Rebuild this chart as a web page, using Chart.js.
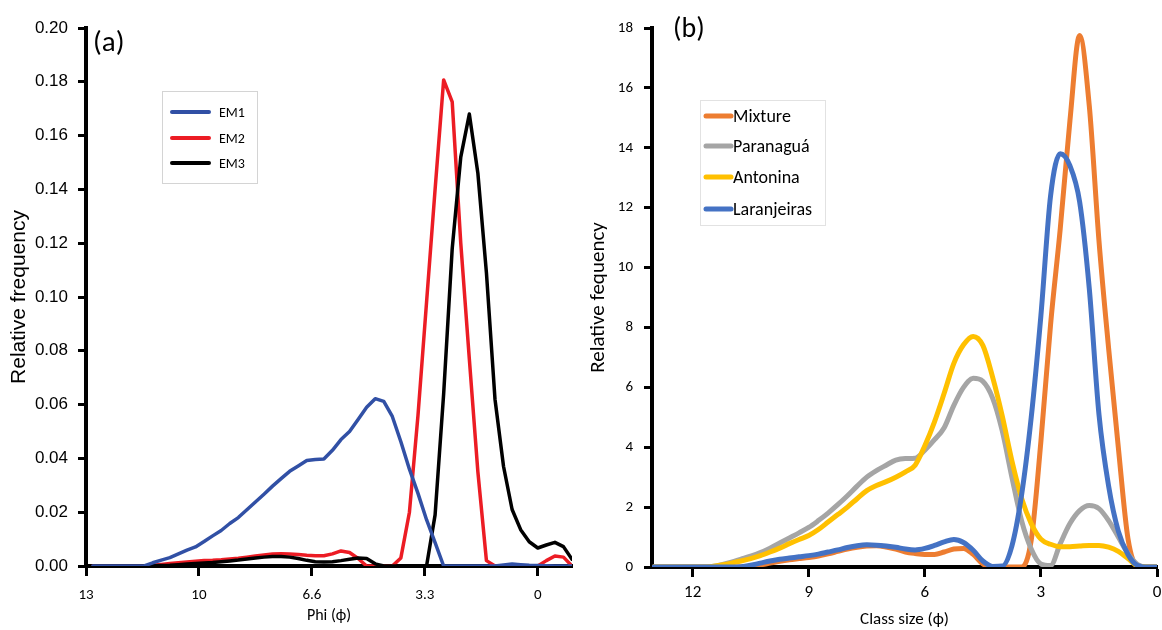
<!DOCTYPE html>
<html><head><meta charset="utf-8">
<script src="https://cdn.jsdelivr.net/npm/chart.js@4.4.1/dist/chart.umd.min.js"></script>
<style>
html,body{margin:0;padding:0;background:#fff;}
#wrap{position:relative;width:1162px;height:630px;overflow:hidden;}
canvas{position:absolute;top:0;}
#ca{left:0;} #cb{left:580px;}
</style></head><body>
<div id="wrap"><canvas id="ca" width="580" height="630"></canvas><canvas id="cb" width="582" height="630"></canvas></div>
<script>
// ---------- Panel (a) data ----------
const phiA = [13,12.75,12.5,12.25,12,11.75,11.5,11.25,11,10.75,10.5,10.25,10,9.75,9.5,9.25,9,8.75,8.5,8.25,8,7.75,7.5,7.25,7,6.75,6.5,6.25,6,5.75,5.5,5.25,5,4.75,4.5,4.25,4,3.75,3.5,3.25,3,2.75,2.5,2.25,2,1.75,1.5,1.25,1,0.75,0.5,0.25,0,-0.25,-0.5,-0.75,-1];
const em1 = [0,0,0,0,0,0,0,0.0012,0.0022,0.0031,0.0045,0.0059,0.0071,0.0091,0.0112,0.0132,0.0158,0.0180,0.0209,0.0238,0.0267,0.0297,0.0325,0.0352,0.0372,0.0392,0.0396,0.0398,0.0430,0.0470,0.0500,0.0545,0.0590,0.0622,0.0612,0.0556,0.0462,0.0360,0.0270,0.0172,0.0087,0,0,0,0,0,0,0,0.0004,0.0007,0.0005,0.0003,0.0002,0.0001,0,0,0];
const em2 = [0,0,0,0,0,0,0,0.0003,0.0006,0.0009,0.0012,0.0015,0.0018,0.0020,0.0021,0.0023,0.0026,0.0029,0.0033,0.0037,0.0041,0.0045,0.0046,0.0045,0.0043,0.0040,0.0038,0.0038,0.0045,0.0056,0.0050,0.0028,0,0,0,0,0.003,0.020,0.056,0.098,0.140,0.1807,0.1725,0.120,0.077,0.035,0.002,0,0,0,0,0,0,0.002,0.0037,0.0033,0];
const em3 = [0,0,0,0,0,0,0,0.0001,0.0002,0.0003,0.0005,0.0007,0.0009,0.0011,0.0013,0.0016,0.0019,0.0022,0.0026,0.0030,0.0033,0.0035,0.0035,0.0033,0.0028,0.0021,0.0016,0.0015,0.0016,0.0020,0.0025,0.0030,0.0028,0.0008,0,0,0,0,0,0,0.019,0.064,0.118,0.152,0.168,0.146,0.109,0.062,0.037,0.021,0.0135,0.009,0.0067,0.0078,0.0088,0.0072,0.0025];
const xTickValsA = [0, 3.3, 6.6, 9.9, 13.2];
const xTickLabelsA = ['0', '3.3', '6.6', '10', '13'];
const yTickValsA = [0,0.02,0.04,0.06,0.08,0.10,0.12,0.14,0.16,0.18,0.20];
const yTickLabelsA = ['0.00','0.02','0.04','0.06','0.08','0.10','0.12','0.14','0.16','0.18','0.20'];

// ---------- Panel (b) data ----------
const phiB = [13,12.75,12.5,12.25,12,11.75,11.5,11.25,11,10.75,10.5,10.25,10,9.75,9.5,9.25,9,8.75,8.5,8.25,8,7.75,7.5,7.25,7,6.75,6.5,6.25,6,5.75,5.5,5.25,5,4.75,4.5,4.25,4,3.75,3.5,3.25,3,2.75,2.5,2.25,2,1.75,1.5,1.25,1,0.75,0.5,0.25,0];
const mixture = [0,0,0,0,0,0,0,0,0,0,0.02,0.07,0.13,0.19,0.24,0.28,0.32,0.37,0.44,0.52,0.60,0.66,0.70,0.71,0.67,0.60,0.50,0.45,0.42,0.42,0.50,0.60,0.62,0.42,0.10,0,0,0,0,0.9,4.2,8.1,11.3,14.9,17.75,15.4,10.9,7.3,4.0,0.95,0.02,0,0];
const paranagua = [0,0,0,0,0,0,0.02,0.08,0.16,0.26,0.36,0.48,0.63,0.80,0.97,1.14,1.32,1.55,1.80,2.08,2.38,2.70,3.00,3.22,3.40,3.57,3.62,3.63,3.90,4.25,4.65,5.40,6.00,6.30,6.20,5.65,4.55,3.00,1.55,0.60,0.10,0.05,0.78,1.45,1.88,2.05,1.95,1.55,1.00,0.45,0.08,0,0];
const antonina = [0,0,0,0,0,0,0.02,0.07,0.13,0.20,0.28,0.38,0.50,0.63,0.78,0.92,1.05,1.25,1.50,1.75,2.00,2.28,2.55,2.72,2.85,3.00,3.18,3.40,4.05,4.85,5.80,6.80,7.42,7.70,7.40,6.35,5.05,3.55,2.30,1.45,0.93,0.76,0.68,0.68,0.70,0.72,0.72,0.66,0.52,0.28,0.03,0,0];
const laranjeiras = [0,0,0,0,0,0,0,0,0,0.01,0.06,0.13,0.20,0.26,0.30,0.34,0.38,0.43,0.50,0.57,0.65,0.71,0.74,0.73,0.70,0.66,0.60,0.57,0.62,0.72,0.84,0.92,0.82,0.56,0.20,0.02,0.03,0.70,2.40,5.00,8.40,12.40,13.80,13.40,12.20,9.30,5.10,2.70,1.20,0.42,0.05,0,0];
const xTickValsB = [0, 3, 6, 9, 12];
const xTickLabelsB = ['0', '3', '6', '9', '12'];
const yTickValsB = [0,2,4,6,8,10,12,14,16,18];
const yTickLabelsB = ['0','2','4','6','8','10','12','14','16','18'];

// ---------- helpers ----------
const CAL = 'Carlito, Calibri, Lato, sans-serif';
const ARI = 'Arial, "Liberation Sans", sans-serif';
const pts = (xs, ys) => xs.map((x, i) => ({x: x, y: ys[i]}));

const boxLegend = {
  id: 'boxLegend',
  afterDraw(chart, args, o) {
    const ctx = chart.ctx;
    ctx.save();
    ctx.fillStyle = '#fff';
    ctx.fillRect(o.x, o.y, o.w, o.h);
    ctx.strokeStyle = o.borderColor; ctx.lineWidth = 1;
    ctx.strokeRect(o.x + 0.5, o.y + 0.5, o.w, o.h);
    ctx.font = o.font; ctx.textBaseline = 'middle'; ctx.textAlign = 'left';
    chart.data.datasets.forEach((ds, i) => {
      const y = o.rowY[i];
      ctx.strokeStyle = ds.borderColor; ctx.lineWidth = o.lineWidth; ctx.lineCap = 'round';
      ctx.beginPath(); ctx.moveTo(o.lineX0, y); ctx.lineTo(o.lineX1, y); ctx.stroke();
      ctx.fillStyle = '#000';
      ctx.fillText(ds.label, o.textX, y + 1);
    });
    ctx.restore();
  }
};
const panelLabel = {
  id: 'panelLabel',
  afterDraw(chart, args, o) {
    const ctx = chart.ctx, a = chart.chartArea;
    ctx.save();
    ctx.font = o.font; ctx.fillStyle = '#000'; ctx.textBaseline = 'middle'; ctx.textAlign = 'left';
    ctx.fillText(o.text, a.left + o.dx, a.top + o.dy);
    ctx.restore();
  }
};
function axisCommon(tickLen) {
  return {
    grid: {display: true, drawOnChartArea: false, drawTicks: true, tickLength: tickLen, tickWidth: 3, tickColor: '#000'},
    border: {display: true, width: 4, color: '#000'}
  };
}

// ---------- Chart (a) ----------
new Chart(document.getElementById('ca'), {
  type: 'line',
  data: {datasets: [
    {label: 'EM1', data: pts(phiA, em1), borderColor: '#3150A5', order: 0},
    {label: 'EM2', data: pts(phiA, em2), borderColor: '#EC1C24', order: 2},
    {label: 'EM3', data: pts(phiA, em3), borderColor: '#000000', order: 1}
  ]},
  options: {
    responsive: false, animation: false, devicePixelRatio: 1,
    layout: {padding: {left: 0, right: 8, top: 28, bottom: 0}},
    elements: {point: {radius: 0}, line: {borderWidth: 3.5, tension: 0, borderJoinStyle: 'round', borderCapStyle: 'round', fill: false}},
    plugins: {
      legend: {display: false}, tooltip: {enabled: false},
      boxLegend: {x: 162, y: 91, w: 95, h: 92, borderColor: '#D4D4D4', rowY: [112, 138, 163], lineX0: 172, lineX1: 209, textX: 219, lineWidth: 4, font: '14px ' + CAL},
      panelLabel: {text: '(a)', dx: 7, dy: 16, font: '29px ' + CAL}
    },
    scales: {
      x: Object.assign(axisCommon(10), {
        type: 'linear', reverse: true, min: -1, max: 13.2,
        afterBuildTicks: s => { s.ticks = xTickValsA.map(v => ({value: v})); },
        afterFit: s => { s.height = 64; },
        ticks: {autoSkip: false, maxRotation: 0, padding: 10, color: '#000', font: {family: CAL, size: 15}, callback: (v, i) => xTickLabelsA[i]},
        title: {display: true, text: 'Phi (ϕ)', color: '#000', font: {family: CAL, size: 16}, padding: {top: 0, bottom: 4}}
      }),
      y: Object.assign(axisCommon(8), {
        type: 'linear', min: 0, max: 0.2,
        afterBuildTicks: s => { s.ticks = yTickValsA.map(v => ({value: v})); },
        afterFit: s => { s.width = 86; },
        ticks: {autoSkip: false, padding: 10, color: '#000', font: {family: ARI, size: 17}, callback: (v, i) => yTickLabelsA[i]},
        title: {display: true, text: 'Relative frequency', color: '#000', font: {family: ARI, size: 21}, padding: {top: 7, bottom: 0}}
      })
    }
  },
  plugins: [boxLegend, panelLabel]
});

// ---------- Chart (b) ----------
const lineB = {borderWidth: 5, cubicInterpolationMode: 'monotone', borderJoinStyle: 'round', borderCapStyle: 'round'};
new Chart(document.getElementById('cb'), {
  type: 'line',
  data: {datasets: [
    Object.assign({label: 'Mixture', data: pts(phiB, mixture), borderColor: '#ED7D31', order: 3}, lineB),
    Object.assign({label: 'Paranaguá', data: pts(phiB, paranagua), borderColor: '#A5A5A5', order: 2}, lineB),
    Object.assign({label: 'Antonina', data: pts(phiB, antonina), borderColor: '#FFC000', order: 1}, lineB),
    Object.assign({label: 'Laranjeiras', data: pts(phiB, laranjeiras), borderColor: '#4472C4', order: 0}, lineB)
  ]},
  options: {
    responsive: false, animation: false, devicePixelRatio: 1,
    layout: {padding: {left: 0, right: 5, top: 28, bottom: 0}},
    elements: {point: {radius: 0}, line: {fill: false}},
    plugins: {
      legend: {display: false}, tooltip: {enabled: false},
      boxLegend: {x: 120, y: 100, w: 125, h: 125, borderColor: '#E2E2E2', rowY: [116, 146, 177, 209], lineX0: 126, lineX1: 151, textX: 153, lineWidth: 5, font: '18px ' + CAL},
      panelLabel: {text: '(b)', dx: 21, dy: 2, font: '28px ' + CAL}
    },
    scales: {
      x: Object.assign(axisCommon(10), {
        type: 'linear', reverse: true, min: 0, max: 13.05,
        afterBuildTicks: s => { s.ticks = xTickValsB.map(v => ({value: v})); },
        afterFit: s => { s.height = 63; },
        ticks: {autoSkip: false, maxRotation: 0, padding: 6, color: '#000', font: {family: CAL, size: 17}, callback: (v, i) => xTickLabelsB[i]},
        title: {display: true, text: 'Class size (ϕ)', color: '#000', font: {family: CAL, size: 17}, padding: {top: 0, bottom: 0}}
      }),
      y: Object.assign(axisCommon(8), {
        type: 'linear', min: 0, max: 18,
        afterBuildTicks: s => { s.ticks = yTickValsB.map(v => ({value: v})); },
        afterFit: s => { s.width = 72; },
        ticks: {autoSkip: false, padding: 11, color: '#000', font: {family: CAL, size: 15}, callback: (v, i) => yTickLabelsB[i]},
        title: {display: true, text: 'Relative fequency', color: '#000', font: {family: CAL, size: 21}, padding: {top: 6, bottom: 0}}
      })
    }
  },
  plugins: [boxLegend, panelLabel]
});
</script>
</body></html>
